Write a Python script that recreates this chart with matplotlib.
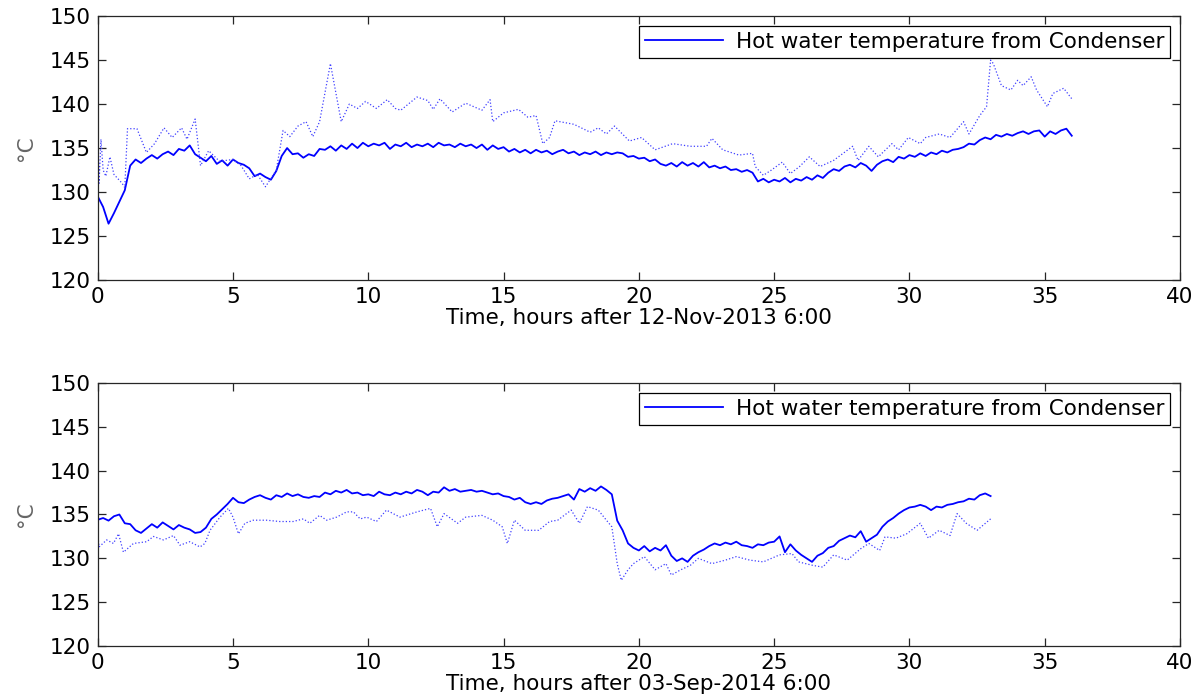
import numpy as np
import matplotlib.pyplot as plt

# condenser hot water temperature, sampled every 0.2 h (solid line)
dt_solid = 0.2
nov_solid = [
    129.5, 128.3, 126.4, 127.6, 128.9, 130.2, 133.0, 133.7, 133.3, 133.8,
    134.2, 133.8, 134.3, 134.6, 134.2, 134.9, 134.7, 135.3, 134.3, 133.9,
    133.5, 134.1, 133.2, 133.6, 133.0, 133.7, 133.3, 133.1, 132.7, 131.8,
    132.1, 131.7, 131.4, 132.4, 134.1, 135.0, 134.3, 134.4, 133.9, 134.3,
    134.1, 134.9, 134.8, 135.2, 134.7, 135.3, 134.9, 135.5, 135.0, 135.6,
    135.2, 135.5, 135.3, 135.6, 134.9, 135.4, 135.2, 135.6, 135.1, 135.4,
    135.2, 135.5, 135.1, 135.6, 135.3, 135.4, 135.1, 135.5, 135.2, 135.4,
    135.0, 135.4, 134.8, 135.3, 134.9, 135.1, 134.6, 134.9, 134.5, 134.8,
    134.4, 134.8, 134.5, 134.7, 134.3, 134.6, 134.8, 134.4, 134.6, 134.2,
    134.5, 134.3, 134.6, 134.2, 134.5, 134.3, 134.5, 134.4, 134.0, 134.1,
    133.8, 133.9, 133.5, 133.7, 133.2, 133.0, 133.3, 132.9, 133.4, 133.0,
    133.3, 132.9, 133.4, 132.8, 133.0, 132.7, 132.9, 132.5, 132.6, 132.3,
    132.5, 132.2, 131.2, 131.5, 131.1, 131.4, 131.2, 131.6, 131.1, 131.5,
    131.3, 131.7, 131.4, 131.9, 131.6, 132.2, 132.6, 132.4, 132.9, 133.1,
    132.8, 133.3, 133.0, 132.4, 133.1, 133.5, 133.7, 133.4, 134.0, 133.8,
    134.2, 134.0, 134.4, 134.1, 134.5, 134.3, 134.7, 134.5, 134.8, 134.9,
    135.1, 135.5, 135.4, 135.9, 136.2, 136.0, 136.5, 136.3, 136.6, 136.4,
    136.7, 136.9, 136.6, 136.9, 137.0, 136.3, 136.9, 136.6, 137.0, 137.2,
    136.4,
]
sep_solid = [
    134.4, 134.6, 134.3, 134.8, 135.0, 134.0, 133.9, 133.2, 132.9, 133.4,
    133.9, 133.5, 134.1, 133.7, 133.3, 133.8, 133.5, 133.3, 132.9, 133.0,
    133.5, 134.5, 135.0, 135.6, 136.2, 136.9, 136.4, 136.3, 136.7, 137.0,
    137.2, 136.9, 136.7, 137.2, 137.0, 137.4, 137.1, 137.3, 137.0, 136.9,
    137.1, 137.0, 137.5, 137.3, 137.7, 137.5, 137.8, 137.4, 137.5, 137.2,
    137.3, 137.1, 137.6, 137.3, 137.2, 137.5, 137.3, 137.6, 137.4, 137.8,
    137.6, 137.2, 137.6, 137.5, 138.1, 137.7, 137.9, 137.6, 137.7, 137.8,
    137.6, 137.7, 137.5, 137.3, 137.4, 137.1, 137.0, 136.7, 136.9, 136.4,
    136.2, 136.4, 136.2, 136.6, 136.8, 136.9, 137.1, 137.3, 136.7, 137.9,
    137.6, 138.0, 137.7, 138.2, 137.8, 137.3, 134.3, 133.2, 131.7, 131.2,
    130.9, 131.4, 130.8, 131.2, 130.9, 131.5, 130.3, 129.7, 130.0, 129.6,
    130.3, 130.7, 131.0, 131.4, 131.7, 131.5, 131.8, 131.6, 131.9, 131.5,
    131.4, 131.2, 131.6, 131.5, 131.8, 131.9, 132.5, 130.7, 131.6, 130.9,
    130.4, 130.0, 129.6, 130.3, 130.6, 131.2, 131.4, 132.0, 132.3, 132.6,
    132.4, 133.1, 131.9, 132.3, 132.7, 133.6, 134.2, 134.6, 135.1, 135.5,
    135.8, 135.9, 136.1, 135.9, 135.5, 135.9, 135.8, 136.1, 136.2, 136.4,
    136.5, 136.8, 136.7, 137.2, 137.4, 137.1,
]

# second (dotted) trace, read at irregular times
nov_dot_h = [
    0, 0.05, 0.12, 0.2, 0.3, 0.45, 0.6, 0.9, 1.0, 1.1, 1.45, 1.8, 2.1, 2.45,
    2.75, 3.1, 3.3, 3.6, 3.8, 4.1, 4.5, 5.0, 5.3, 5.6, 5.9, 6.2, 6.6, 6.85,
    7.1, 7.4, 7.7, 7.95, 8.2, 8.6, 9.0, 9.3, 9.6, 9.9, 10.3, 10.7, 11.0,
    11.2, 11.8, 12.2, 12.4, 12.65, 13.1, 13.6, 14.2, 14.5, 14.6, 15.0,
    15.55, 15.9, 16.2, 16.45, 16.7, 16.9, 17.6, 18.2, 18.5, 18.8, 19.1,
    19.65, 20.1, 20.6, 21.25, 21.9, 22.5, 22.7, 23.1, 23.7, 24.2, 24.3,
    24.6, 24.9, 25.3, 25.6, 25.94, 26.3, 26.7, 27.2, 27.9, 28.1, 28.5,
    28.85, 29.35, 29.6, 29.96, 30.4, 30.6, 31.1, 31.5, 32.0, 32.2, 32.6,
    32.85, 33.0, 33.1, 33.4, 33.75, 34.0, 34.2, 34.5, 34.7, 35.1, 35.3,
    35.7, 36.0,
]
nov_dot = [
    136.7, 131.0, 136.0, 132.5, 131.8, 134.0, 132.0, 131.0, 130.5, 137.2,
    137.2, 134.5, 135.5, 137.3, 136.2, 137.3, 136.0, 138.3, 133.0, 134.7,
    133.5, 133.7, 133.0, 131.5, 132.0, 130.6, 132.5, 137.0, 136.3, 137.5,
    138.0, 136.3, 138.0, 144.6, 138.0, 140.0, 139.5, 140.3, 139.5, 140.5,
    139.5, 139.3, 140.8, 140.4, 139.4, 140.6, 139.1, 140.1, 139.3, 140.5,
    138.0, 139.0, 139.4, 138.5, 138.7, 135.5, 136.2, 138.1, 137.7, 136.8,
    137.3, 136.6, 137.5, 135.8, 136.2, 134.8, 135.5, 135.2, 135.2, 136.1,
    134.8, 134.2, 134.4, 132.9, 131.9, 132.5, 133.4, 132.1, 132.9, 134.0,
    132.9, 133.6, 135.2, 133.6, 135.2, 134.0, 135.5, 134.8, 136.2, 135.5,
    136.2, 136.6, 136.2, 138.0, 136.6, 138.7, 139.7, 145.0, 144.6, 142.1,
    141.6, 142.7, 142.1, 143.1, 141.6, 139.7, 141.2, 141.8, 140.6,
]
sep_dot_h = [
    0, 0.05, 0.33, 0.58, 0.77, 0.95, 1.32, 1.81, 2.06, 2.43, 2.8, 3.04,
    3.4, 3.78, 3.96, 4.15, 4.52, 4.83, 5.0, 5.2, 5.44, 5.75, 6.24, 6.73,
    7.22, 7.6, 7.84, 8.2, 8.46, 8.83, 9.2, 9.45, 9.7, 9.94, 10.3, 10.67,
    11.17, 11.8, 12.3, 12.55, 12.8, 13.3, 13.6, 14.2, 14.6, 14.95, 15.14,
    15.4, 15.8, 16.3, 16.7, 17.0, 17.5, 17.8, 18.1, 18.5, 18.8, 19.0, 19.2,
    19.35, 19.6, 19.8, 20.2, 20.6, 21.0, 21.2, 21.55, 21.9, 22.2, 22.7,
    23.2, 23.6, 24.1, 24.6, 25.2, 25.66, 25.9, 26.43, 26.8, 27.2, 27.7,
    28.2, 28.5, 28.9, 29.1, 29.5, 29.9, 30.4, 30.7, 31.1, 31.5, 31.76,
    32.1, 32.5, 33.0,
]
sep_dot = [
    132.8, 131.3, 132.1, 131.7, 132.8, 130.7, 131.7, 131.9, 132.5, 132.1,
    132.6, 131.5, 131.9, 131.3, 131.7, 133.2, 134.7, 135.7, 134.7, 132.8,
    134.0, 134.35, 134.35, 134.2, 134.2, 134.5, 134.0, 134.9, 134.35, 134.7,
    135.3, 135.3, 134.5, 134.7, 134.2, 135.5, 134.7, 135.3, 135.7, 133.6,
    135.1, 134.0, 134.7, 134.9, 134.35, 133.6, 131.7, 134.35, 133.2, 133.2,
    134.2, 134.35, 135.5, 134.0, 135.9, 135.5, 134.35, 133.6, 129.4, 127.5,
    128.7, 129.4, 130.2, 128.7, 129.4, 128.1, 128.7, 129.2, 130.0, 129.4,
    129.8, 130.2, 129.8, 129.6, 130.4, 130.55, 129.6, 129.2, 129.0, 130.4,
    129.8, 131.1, 131.7, 130.9, 132.45, 132.3, 132.8, 134.0, 132.3, 133.2,
    132.6, 135.1, 134.0, 133.2, 134.5,
]

xlabels = ['Time, hours after 12-Nov-2013 6:00', 'Time, hours after 03-Sep-2014 6:00']
legend_text = 'Hot water temperature from Condenser'

plt.rcParams['font.family'] = 'DejaVu Sans'
fs = 15.5

fig = plt.figure(figsize=(12.02, 7.0), dpi=100)
ax1 = fig.add_axes([0.0813, 0.600, 0.9004, 0.377])
ax2 = fig.add_axes([0.0813, 0.077, 0.9004, 0.376])

panels = [
    (ax1, nov_solid, nov_dot_h, nov_dot, xlabels[0]),
    (ax2, sep_solid, sep_dot_h, sep_dot, xlabels[1]),
]

for ax, solid, dot_h, dot, xl in panels:
    hours = np.arange(len(solid)) * dt_solid
    ax.plot(hours, solid, '-', color='#0000ff', lw=1.3, label=legend_text)
    ax.plot(dot_h, dot, ':', color='#4040ff', lw=0.9)
    ax.set_xlim(0, 40)
    ax.set_ylim(120, 150)
    ax.set_xticks(np.arange(0, 41, 5))
    ax.set_yticks(np.arange(120, 151, 5))
    ax.tick_params(direction='in', top=True, right=True, length=6, width=0.9,
                   labelsize=fs, pad=5, colors='#262626', labelcolor='black')
    for s in ax.spines.values():
        s.set_color('#262626')
        s.set_linewidth(0.9)
    ax.set_xlabel(xl, fontsize=fs, labelpad=1)
    ax.set_ylabel('°C', fontsize=fs, color='#666666', labelpad=10)
    leg = ax.legend(loc='upper right', fontsize=fs, fancybox=False,
                    edgecolor='black', framealpha=1, borderaxespad=0.45,
                    handlelength=3.6, borderpad=0.28, handletextpad=0.6)
    leg.get_frame().set_linewidth(0.9)

fig.savefig('out.png', dpi=100)
